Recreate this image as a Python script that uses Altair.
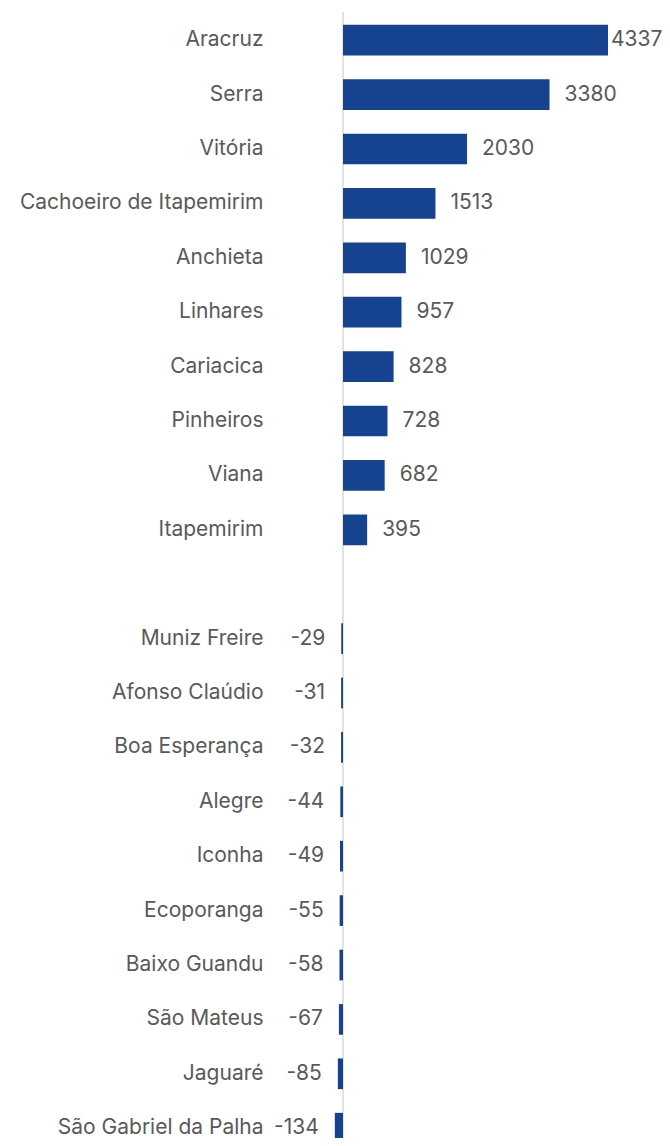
import altair as alt
import pandas as pd

top_names = ["Aracruz", "Serra", "Vitória", "Cachoeiro de Itapemirim", "Anchieta",
             "Linhares", "Cariacica", "Pinheiros", "Viana", "Itapemirim"]
top_values = [4337, 3380, 2030, 1513, 1029, 957, 828, 728, 682, 395]

bottom_names = ["Muniz Freire", "Afonso Claúdio", "Boa Esperança", "Alegre", "Iconha",
                "Ecoporanga", "Baixo Guandu", "São Mateus", "Jaguaré", "São Gabriel da Palha"]
bottom_values = [-29, -31, -32, -44, -49, -55, -58, -67, -85, -134]

spacer = " "
order = top_names + [spacer] + bottom_names

df = pd.DataFrame({"name": top_names + bottom_names, "value": top_values + bottom_values})

FONT = "Inter"
TEXT = "#595959"
BAR = "#15438F"
FS = 21

x_scale = alt.Scale(domain=[-1195, 4337], nice=False, zero=False)
y_enc = alt.Y("name:N",
              scale=alt.Scale(domain=order, range=[0, 1142.4], paddingInner=0.436, paddingOuter=0.218),
              axis=alt.Axis(title=None, domain=False, ticks=False, labelPadding=7,
                            labelFontSize=FS, labelColor=TEXT, labelFont=FONT, labelLimit=400))
x_enc = alt.X("value:Q", scale=x_scale, axis=None)

base = alt.Chart(df).transform_calculate(label="toString(datum.value)")

bars = base.mark_bar(color=BAR).encode(x=x_enc, y=y_enc)

zero = alt.Chart(pd.DataFrame({"z": [0]})).mark_rule(color="#d9d9d9", strokeWidth=1.5).encode(
    x=alt.X("z:Q", scale=x_scale, axis=None),
    y=alt.value(-1), y2=alt.value(1125))

pos_text = base.transform_filter("datum.value >= 0 && datum.value < 4000").mark_text(
    align="left", baseline="middle", dx=15, fontSize=FS, font=FONT, color=TEXT
).encode(x=x_enc, y=y_enc, text="label:N")

edge_text = base.transform_filter("datum.value >= 4000").mark_text(
    align="left", baseline="middle", dx=3, fontSize=FS, font=FONT, color=TEXT
).encode(x=x_enc, y=y_enc, text="label:N")

neg_text = base.transform_filter("datum.value < 0").mark_text(
    align="right", baseline="middle", dx=-16, fontSize=FS, font=FONT, color=TEXT
).encode(x=x_enc, y=y_enc, text="label:N")

chart = alt.layer(zero, bars, pos_text, edge_text, neg_text).properties(
    width=338, height=1125,
    autosize=alt.AutoSizeParams(type="none"),
    padding={"left": 262, "top": 5, "right": 54, "bottom": 0},
).configure_view(strokeWidth=0)

chart.save("out.html", embed_options={"renderer": "svg", "actions": False})
